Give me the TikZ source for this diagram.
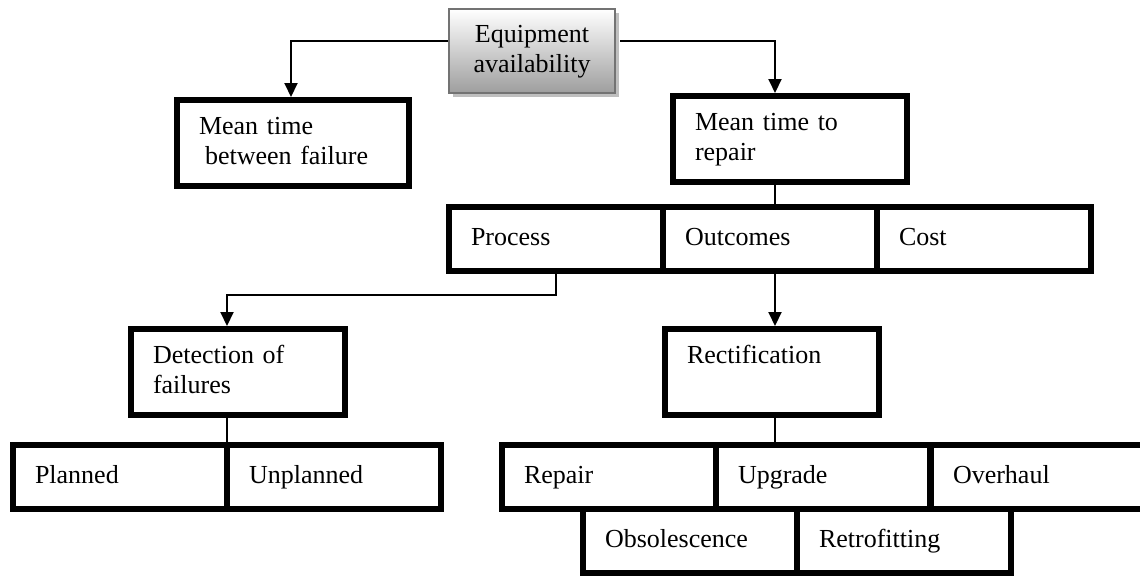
\documentclass[tikz,border=0pt]{standalone}
\usepackage{fontspec}
\setmainfont{Liberation Serif}
\usetikzlibrary{arrows.meta,calc,shadows}

\tikzset{
  cell/.style={draw=black, line width=6pt, fill=white, rectangle,
    minimum width=214pt, minimum height=64pt, inner xsep=22pt, inner ysep=0pt,
    text width=170pt, align=left,
    font=\fontsize{26}{30}\selectfont,
    execute at begin node=\strut, execute at end node=\strut},
  bigcell/.style={cell, minimum height=86pt},
  headbox/.style={draw=black!55, line width=2pt, rectangle,
    top color=white, bottom color=black!38,
    minimum width=166pt, minimum height=84pt, align=center,
    font=\fontsize{26}{30}\selectfont,
    drop shadow={shadow xshift=4pt, shadow yshift=-4pt, fill=black!25, opacity=1}},
  conn/.style={draw=black, line width=2pt},
  arrowconn/.style={conn, -{Triangle[width=13pt,length=14pt]}}
}

\begin{document}
\begin{tikzpicture}[x=1pt,y=-1pt]
\useasboundingbox (0,0) rectangle (1140,576);
\clip (0,0) rectangle (1140,576);

% root
\node[headbox] (top) at (532,51) {\strut Equipment\\availability\strut};

% second level
\node[bigcell, minimum width=232pt, text width=188pt] (mtbf) at (293,143)
  {Mean time\\\hspace*{6pt}between failure};
\node[bigcell, minimum width=234pt, text width=190pt] (mttr) at (790,139)
  {Mean time to\\repair};

% aspects of repair
\node[cell] (process)  at (556,239) {Process};
\node[cell] (outcomes) at (770,239) {Outcomes};
\node[cell] (cost)     at (984,239) {Cost};

% third level
\node[bigcell] (det)  at (238,372) {Detection of\\failures};
\node[bigcell] (rect) at (772,372) {Rectification\\\strut};

% detection types
\node[cell] (planned)   at (120,477) {Planned};
\node[cell] (unplanned) at (334,477) {Unplanned};

% rectification types
\node[cell] (repair)   at (609,477) {Repair};
\node[cell] (upgrade)  at (823,477) {Upgrade};
\node[cell] (overhaul) at (1038,477) {Overhaul};
\node[cell] (obsol)    at (690,541) {Obsolescence};
\node[cell] (retro)    at (904,541) {Retrofitting};

% routing points
\coordinate (lb) at (291,41);
\coordinate (rb) at (775,41);
\coordinate (pb) at (227,295);

% connectors
\draw[arrowconn] (top.west |- lb) -- (lb) -- (mtbf.north -| lb);
\draw[arrowconn] ($(top.east |- rb)+(4,0)$) -- (rb) -- (mttr.north -| rb);
\draw[conn] (mttr.south -| rb) -- (outcomes.north -| rb);
\draw[arrowconn] (outcomes.south -| rb) -- (rect.north -| rb);
\draw[conn] (rect.south -| rb) -- (upgrade.north -| rb);
\draw[arrowconn] (process.south) |- (pb) -- (det.north -| pb);
\draw[conn] (det.south -| pb) -- (planned.north -| pb);
\end{tikzpicture}
\end{document}
